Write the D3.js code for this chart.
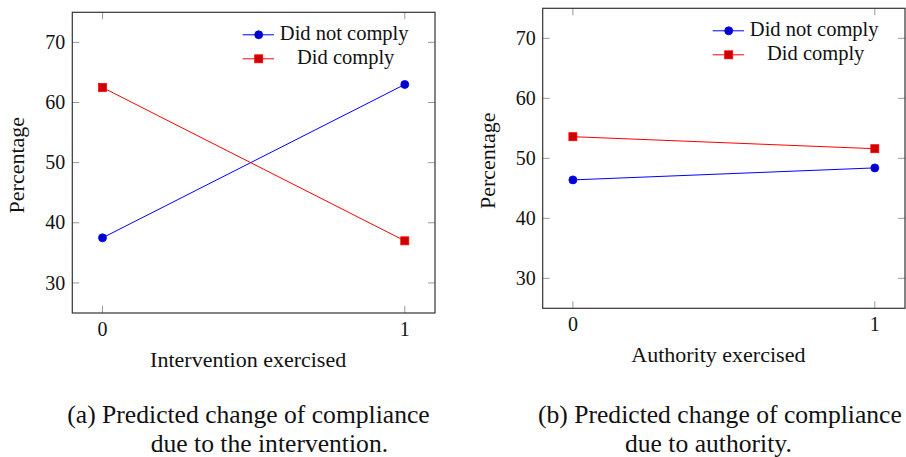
<!DOCTYPE html>
<html>
<head>
<meta charset="utf-8">
<script src="https://cdn.jsdelivr.net/npm/d3@7"></script>
<style>
  html, body { margin: 0; padding: 0; background: #fff; }
  svg { display: block; }
  text { font-family: "Liberation Serif", "Times New Roman", serif; fill: #111; }
</style>
</head>
<body>
<svg id="chart" width="906" height="457"></svg>
<script>
// ---- data ----
const xTicks = [0, 1];
const yTicks = [30, 40, 50, 60, 70];
const seriesNames = ["Did not comply", "Did comply"];
const interventionNotComply = [37.5, 63.0];
const interventionComply = [62.5, 37.0];
const authorityNotComply = [46.4, 48.4];
const authorityComply = [53.6, 51.6];
const xLabels = ["Intervention exercised", "Authority exercised"];
const captionsA = ["(a) Predicted change of compliance", "due to the intervention."];
const captionsB = ["(b) Predicted change of compliance", "due to authority."];

const svg = d3.select("#chart");

const panels = [
  { left: 72.3, right: 435, top: 12.3, bottom: 313,
    series: [interventionNotComply, interventionComply],
    xLabel: xLabels[0], caption: captionsA, capX: 67.3, cap2X: 150.7 },
  { left: 542.7, right: 905, top: 8.3, bottom: 308.3,
    series: [authorityNotComply, authorityComply],
    xLabel: xLabels[1], caption: captionsB, capX: 538, cap2X: 625 }
];

const styles = [
  { line: "#0000ff", fill: "#0000cc", shape: "circle" },
  { line: "#ff0000", fill: "#cc0000", shape: "square" }
];

panels.forEach(p => {
  const x = d3.scaleLinear().domain([-0.1, 1.1]).range([p.left, p.right]);
  const y = d3.scaleLinear().domain([25, 75]).range([p.bottom, p.top]);
  const g = svg.append("g");
  const tickLen = 7;

  // ticks (inward, on all four sides)
  const tg = g.append("g").attr("stroke", "#9a9a9a").attr("stroke-width", 1);
  xTicks.forEach(t => {
    tg.append("line").attr("x1", x(t)).attr("x2", x(t)).attr("y1", p.bottom).attr("y2", p.bottom - tickLen);
    tg.append("line").attr("x1", x(t)).attr("x2", x(t)).attr("y1", p.top).attr("y2", p.top + tickLen);
  });
  yTicks.forEach(t => {
    tg.append("line").attr("x1", p.left).attr("x2", p.left + tickLen).attr("y1", y(t)).attr("y2", y(t));
    tg.append("line").attr("x1", p.right).attr("x2", p.right - tickLen).attr("y1", y(t)).attr("y2", y(t));
  });

  // frame
  g.append("rect")
    .attr("x", p.left).attr("y", p.top)
    .attr("width", p.right - p.left).attr("height", p.bottom - p.top)
    .attr("fill", "none").attr("stroke", "#333").attr("stroke-width", 1.2);

  // tick labels
  xTicks.forEach(t => {
    g.append("text").attr("x", x(t)).attr("y", p.bottom + 22.7)
      .attr("text-anchor", "middle").attr("font-size", 20).text(d3.format("d")(t));
  });
  yTicks.forEach(t => {
    g.append("text").attr("x", p.left - 7).attr("y", y(t)).attr("dy", "0.33em")
      .attr("text-anchor", "end").attr("font-size", 20).text(t);
  });

  // axis labels
  g.append("text")
    .attr("x", (p.left + p.right) / 2 - 5.5).attr("y", p.bottom + 53.5)
    .attr("text-anchor", "middle").attr("font-size", 22).text(p.xLabel);
  g.append("text")
    .attr("transform", `translate(${p.left - 48},${(p.top + p.bottom) / 2 + 2.5}) rotate(-90)`)
    .attr("text-anchor", "middle").attr("font-size", 22).text("Percentage");

  // series
  const line = d3.line().x((d, i) => x(xTicks[i])).y(d => y(d));
  p.series.forEach((vals, si) => {
    const st = styles[si];
    g.append("path").datum(vals).attr("d", line)
      .attr("fill", "none").attr("stroke", st.line).attr("stroke-width", 1);
    vals.forEach((v, i) => {
      if (st.shape === "circle") {
        g.append("circle").attr("cx", x(xTicks[i])).attr("cy", y(v)).attr("r", 4)
          .attr("fill", st.fill).attr("stroke", st.line).attr("stroke-width", 0.8);
      } else {
        g.append("rect").attr("x", x(xTicks[i]) - 4).attr("y", y(v) - 4)
          .attr("width", 8).attr("height", 8)
          .attr("fill", st.fill).attr("stroke", st.line).attr("stroke-width", 0.8);
      }
    });
  });

  // legend
  const lx = p.right - 192.3;
  const ly = p.top + 22.5;
  seriesNames.forEach((name, si) => {
    const st = styles[si];
    const yy = ly + si * 24;
    g.append("line").attr("x1", lx).attr("x2", lx + 31.3).attr("y1", yy).attr("y2", yy)
      .attr("stroke", st.line).attr("stroke-width", 1);
    const mx = lx + 16;
    if (st.shape === "circle") {
      g.append("circle").attr("cx", mx).attr("cy", yy).attr("r", 4)
        .attr("fill", st.fill).attr("stroke", st.line).attr("stroke-width", 0.8);
    } else {
      g.append("rect").attr("x", mx - 4).attr("y", yy - 4).attr("width", 8).attr("height", 8)
        .attr("fill", st.fill).attr("stroke", st.line).attr("stroke-width", 0.8);
    }
    g.append("text").attr("x", lx + 101.5 + si * 1.5).attr("y", yy + 5.5)
      .attr("text-anchor", "middle").attr("font-size", 20.5).text(name);
  });

  // caption
  svg.append("text").attr("x", p.capX).attr("y", 422.5)
    .attr("font-size", 25.6).text(p.caption[0]);
  svg.append("text").attr("x", p.cap2X).attr("y", 451.5)
    .attr("font-size", 25.6).text(p.caption[1]);
});
</script>
</body>
</html>
